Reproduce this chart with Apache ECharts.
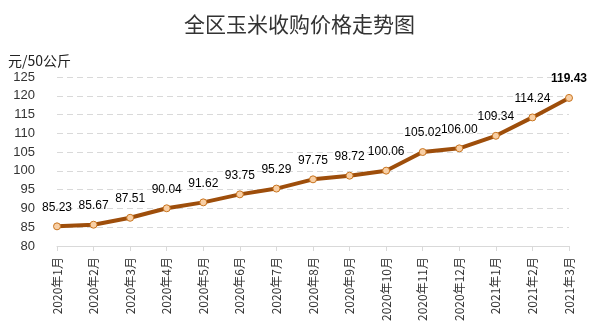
<!DOCTYPE html>
<html><head><meta charset="utf-8">
<script src="https://cdn.jsdelivr.net/npm/echarts@6/dist/echarts.min.js"></script>
<style>html,body{margin:0;padding:0;background:#fff}#c{width:599px;height:333px}</style>
</head><body><div id="c"></div>
<script>
const categories = ['2020年1月','2020年2月','2020年3月','2020年4月','2020年5月','2020年6月','2020年7月','2020年8月','2020年9月','2020年10月','2020年11月','2020年12月','2021年1月','2021年2月','2021年3月'];
const prices = [85.23, 85.67, 87.51, 90.04, 91.62, 93.75, 95.29, 97.75, 98.72, 100.06, 105.02, 106.00, 109.34, 114.24, 119.43];
const yMin = 80, yMax = 125, yStep = 5;
const titleText = '全区玉米收购价格走势图';
const unitText = '元/50公斤';

const chart = echarts.init(document.getElementById('c'));
const lastIdx = prices.length - 1;
chart.setOption({
  animation: false,
  title: {
    text: titleText, left: 'center', top: 9,
    textStyle: {fontSize: 21, fontWeight: 'normal', color: '#333', fontFamily: 'Noto Sans CJK SC'}
  },
  graphic: [{
    type: 'text', left: 8, top: 54,
    style: {text: unitText, fontSize: 14, fill: '#222', fontFamily: 'Noto Sans CJK SC'}
  }],
  grid: {left: 57, right: 30, top: 77, bottom: 87},
  xAxis: {
    type: 'category', data: categories, boundaryGap: false,
    axisLine: {lineStyle: {color: '#d9d9d9'}},
    axisTick: {show: true, length: 5, lineStyle: {color: '#d9d9d9'}},
    axisLabel: {rotate: 90, interval: 0, margin: 11, fontSize: 12, color: '#333', fontFamily: 'Noto Sans CJK SC'}
  },
  yAxis: {
    type: 'value', min: yMin, max: yMax, interval: yStep,
    axisLine: {show: false}, axisTick: {show: false},
    axisLabel: {fontSize: 13, color: '#333', margin: 22, fontFamily: 'Liberation Sans'},
    splitLine: {lineStyle: {color: '#d9d9d9', type: [6, 4]}}
  },
  series: [{
    type: 'line', data: prices.map((v, i) => i === lastIdx ? {value: v, label: {fontWeight: 'bold'}} : v),
    lineStyle: {color: '#9E4E0B', width: 4},
    itemStyle: {color: '#F8CFA5', borderColor: '#C8741F', borderWidth: 1},
    symbol: 'circle', symbolSize: 7, showAllSymbol: true,
    label: {
      show: true, position: 'top', distance: 9, color: '#000', fontSize: 12,
      fontFamily: 'Liberation Sans',
      formatter: p => p.value.toFixed(2)
    }
  }]
});
</script></body></html>
